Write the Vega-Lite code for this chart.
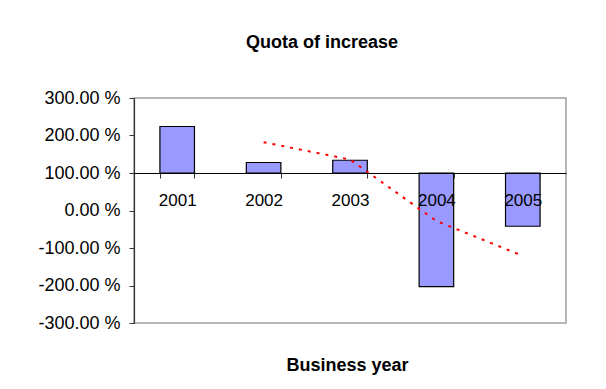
{
  "$schema": "https://vega.github.io/schema/vega-lite/v6.json",
  "width": 432,
  "height": 225,
  "autosize": {"type": "none"},
  "padding": {"left": 134, "top": 98, "right": 40, "bottom": 66},
  "background": "white",
  "config": {
    "font": "Liberation Sans",
    "view": {"stroke": "#a0a0a0", "strokeWidth": 1.5},
    "axisY": {
      "values": [-300, -200, -100, 0, 100, 200, 300],
      "labelExpr": "replace(format(datum.value, '.2f'), '\u2212', '-') + ' %'",
      "labelOverlap": false,
      "labelFontSize": 18,
      "labelColor": "black",
      "labelPadding": 9,
      "tickSize": 5,
      "tickColor": "#333333",
      "domainColor": "#333333",
      "domainWidth": 1.2,
      "grid": false
    }
  },
  "title": {
    "text": "Quota of increase",
    "fontSize": 18,
    "fontWeight": "bold",
    "font": "Liberation Sans",
    "color": "black",
    "anchor": "middle",
    "frame": "group",
    "baseline": "alphabetic",
    "dx": -28,
    "offset": 23
  },
  "datasets": {
    "bars": [
      {"year": "2001", "quota": 224},
      {"year": "2002", "quota": 128},
      {"year": "2003", "quota": 134},
      {"year": "2004", "quota": -203},
      {"year": "2005", "quota": -42}
    ],
    "trend": [
      {"year": "2002", "avg": 182},
      {"year": "2003", "avg": 136},
      {"year": "2004", "avg": -28},
      {"year": "2005", "avg": -121}
    ]
  },
  "layer": [
    {
      "data": {"name": "bars"},
      "mark": {"type": "bar", "fill": "#9999FF", "stroke": "black", "strokeWidth": 1.2},
      "encoding": {
        "x": {
          "field": "year",
          "type": "ordinal",
          "scale": {"paddingInner": 0.6, "paddingOuter": 0.3},
          "axis": {
            "title": "Business year",
            "titleFontSize": 18,
            "titleFontWeight": "bold",
            "titleColor": "black",
            "titleBaseline": "alphabetic",
            "titleY": 197,
            "titleX": 213,
            "offset": -150,
            "labelAngle": 0,
            "labelFontSize": 17,
            "labelColor": "black",
            "labelPadding": 14,
            "tickBand": "extent",
            "tickSize": 5,
            "tickColor": "#333333",
            "domainColor": "black",
            "domainWidth": 1.2,
            "zindex": 1
          }
        },
        "y": {
          "field": "quota",
          "type": "quantitative",
          "scale": {"domain": [-300, 300], "nice": false, "zero": false},
          "axis": {"title": null, "values": [-300, -200, -100, 0, 100, 200, 300]}
        },
        "y2": {"datum": 100}
      }
    },
    {
      "data": {"name": "trend"},
      "mark": {"type": "line", "stroke": "#FF0000", "strokeWidth": 2, "strokeDash": [3, 6]},
      "encoding": {
        "x": {"field": "year", "type": "ordinal"},
        "y": {
          "field": "avg",
          "type": "quantitative",
          "axis": {"title": null, "values": [-300, -200, -100, 0, 100, 200, 300]}
        }
      }
    }
  ]
}
